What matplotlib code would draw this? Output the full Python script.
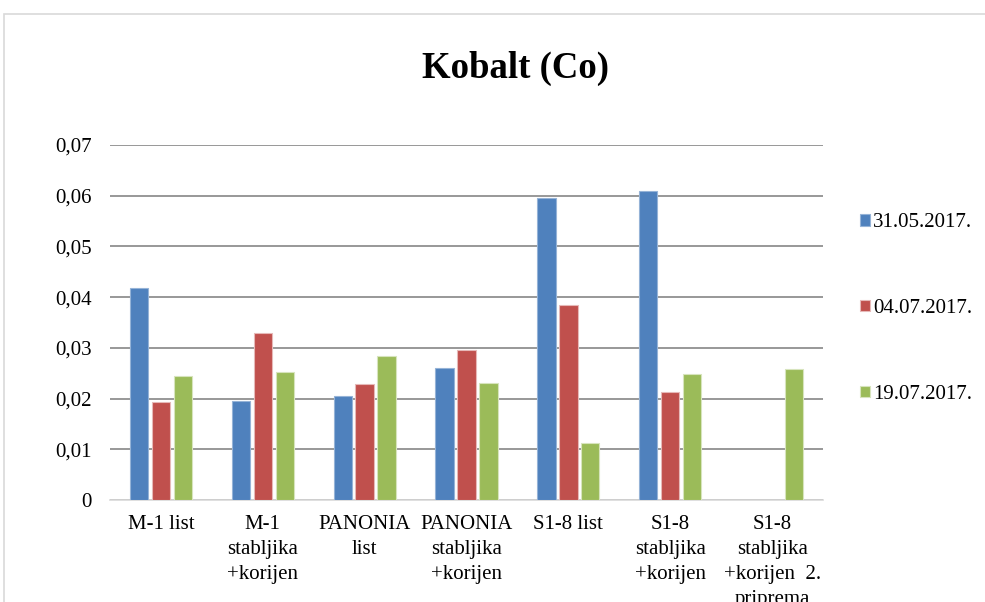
import matplotlib.pyplot as plt
import numpy as np
from matplotlib.patches import Rectangle

categories = ["M-1 list", "M-1\nstabljika\n+korijen", "PANONIA\nlist",
              "PANONIA\nstabljika\n+korijen", "S1-8 list", "S1-8\nstabljika\n+korijen",
              "S1-8\nstabljika\n+korijen  2.\npriprema"]
dates = ["31.05.2017.", "04.07.2017.", "19.07.2017."]
s_3105 = [0.0419, 0.0195, 0.0206, 0.0260, 0.0596, 0.0609, np.nan]
s_0407 = [0.0193, 0.0329, 0.0229, 0.0296, 0.0385, 0.0212, np.nan]
s_1907 = [0.0245, 0.0252, 0.0284, 0.0231, 0.0113, 0.0249, 0.0258]
yticks = [0, 0.01, 0.02, 0.03, 0.04, 0.05, 0.06, 0.07]

colors = ["#4F81BD", "#C0504D", "#9BBB59"]
edges = ["#95B3D7", "#E6B9B8", "#D7E4BD"]

plt.rcParams['font.family'] = ['Liberation Serif', 'DejaVu Serif']

fig = plt.figure(figsize=(9.85, 6.02), dpi=100)
# chart frame
fig.patches.append(Rectangle((4 / 985, -0.1), 1.2, 1 - 14 / 602 + 0.1,
                             transform=fig.transFigure, fill=False,
                             edgecolor="#D9D9D9", linewidth=1.2))

ax = fig.add_axes([110 / 985, 1 - 500 / 602, (823 - 110) / 985, (500 - 145) / 602])

x = np.arange(len(categories))
w = 0.18
step = 0.215
for i, (vals, lab) in enumerate(zip([s_3105, s_0407, s_1907], dates)):
    ax.bar(x + (i - 1) * step, vals, width=w, color=colors[i],
           edgecolor=edges[i], linewidth=0.8, label=lab, zorder=3)

ax.set_xlim(-0.5, len(categories) - 0.5)
ax.set_ylim(0, 0.07)
ax.set_yticks(yticks)
ax.set_yticklabels([("%.2f" % v).replace(".", ",") if v else "0" for v in yticks], fontsize=15)
ax.set_xticks(x)
ax.set_xticklabels(categories, fontsize=15, va="top", linespacing=1.42)
ax.tick_params(axis="both", length=0)
ax.tick_params(axis="y", pad=13)
ax.tick_params(axis="x", pad=11)
ax.grid(axis="y", color="#868686", linewidth=1.2, zorder=0)
for s in ["left", "right", "top"]:
    ax.spines[s].set_visible(False)
ax.spines["bottom"].set_color("#D9D9D9")
ax.spines["bottom"].set_linewidth(1.2)

fig.text(515 / 985, 1 - 68 / 602, "Kobalt (Co)", fontsize=26.5, fontweight="bold",
         ha="center", va="center")

ax.legend(loc="upper left", bbox_to_anchor=(852 / 985, 1 - 205 / 602),
          bbox_transform=fig.transFigure, frameon=False, fontsize=15,
          handlelength=0.45, handleheight=0.45, handletextpad=0.15,
          labelspacing=3.2, borderaxespad=0)

fig.savefig("out.png", dpi=100)
